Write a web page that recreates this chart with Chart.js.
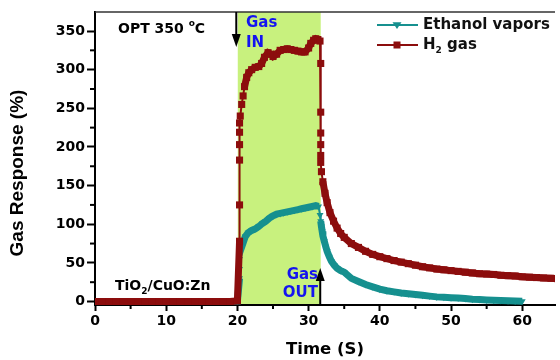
<!DOCTYPE html>
<html>
<head>
<meta charset="utf-8">
<script src="https://cdn.jsdelivr.net/npm/chart.js@4/dist/chart.umd.min.js"></script>
<style>
  html, body { margin: 0; padding: 0; background: #fff; }
  #wrap { width: 560px; height: 360px; }
</style>
</head>
<body>
<div id="wrap"><canvas id="gasChart" width="560" height="360"></canvas></div>
<script>
// values
const h2Time = [0,1,2,3,4,5,6,7,8,9,10,11,12,13,14,15,16,17,18,19,20,
    20.3,20.3,20.3,20.3,20.3,20.3,
    20.4,20.6,20.8,21.0,21.3,21.6,22.0,22.5,23.0,23.4,23.8,24.3,24.7,25.0,25.5,26.0,26.5,27.0,27.5,28.0,28.5,29.0,29.5,30.0,30.3,30.7,31.0,31.3,31.6,
    31.7,31.7,31.7,31.7,31.7,31.7,
    31.8,32.0,32.3,32.6,33.0,33.5,34.0,34.5,35,36,37,38,39,40,41,42,43,44,45,46,47,48,49,50,51,52,53,54,55,56,57,58,59,60,61,62,63,64,65];
const h2Values = [0,0,0,0,0,0,0,0,0,0,0,0,0,0,0,0,0,0,0,0,1,
    78,125,183,203,219,231,
    240,255,266,278,290,296,300,303,304,308,316,322,320,317,320,325,326,327,326,325,324,323,323,328,334,338,340,339,337,
    308,245,218,203,189,180,
    168,155,140,128,115,104,95,88,83,75,70,65,61,58,55.5,53,51,49,47,45,43.5,42,41,40,39,38,37,36,35.5,35,34,33.5,33,32,31.5,31,30.5,30,29.5];

const ethTime = [0,1,2,3,4,5,6,7,8,9,10,11,12,13,14,15,16,17,18,19,20,
    20.3,20.3,20.3,20.3,20.3,
    20.5,20.8,21.1,21.5,22.0,22.5,23.0,23.5,24.0,24.5,25.0,25.5,26.0,26.5,27.0,27.5,28.0,28.5,29.0,29.5,30.0,30.5,31.0,31.4,
    31.6,31.7,31.8,31.9,32.0,32.2,32.4,32.6,32.9,33.2,33.6,34.0,34.5,35,36,37,38,39,40,41,42,43,44,45,46,47,48,49,50,51,52,53,54,55,56,57,58,59,60];
const ethValues = [0,0,0,0,0,0,0,0,0,0,0,0,0,0,0,0,0,0,0,0,0.5,
    30,42,55,65,75,
    68,76,84,89,92,94,97,101,104,108,111,113,114,115,116,117,118,119,120,121,122,123,124,123,
    112,104,97,91,85,78,71,65,58,52,47,43,40,38,30,26,22,19,16,14,12.5,11,10,9,8,7,6,5.5,5,4.5,4,3,2.5,2,1.5,1.2,1,0.8,0.5];

const xTicks = [0, 10, 20, 30, 40, 50, 60];
const yTicks = [0, 50, 100, 150, 200, 250, 300, 350];

const gasOn = 20.05;
const gasOff = 31.7;

const FONT = '"DejaVu Sans", Verdana, sans-serif';
const FONT2 = '"Liberation Sans", Arial, sans-serif';
const RED = '#8c0d0d';
const TEAL = '#16908f';
const BLUE = '#1414f0';

function toPoints(xs, ys) {
    return xs.map((x, i) => ({ x: x, y: ys[i] }));
}

// thin line for the vertical jumps, thick band elsewhere
function segWidth(ctx) {
    const dx = Math.abs(ctx.p1.x - ctx.p0.x);
    const dy = Math.abs(ctx.p1.y - ctx.p0.y);
    return (dx < 2 && dy > 6) ? 2 : 7;
}

function drawTriangleDown(ctx, x, y, r) {
    ctx.beginPath();
    ctx.moveTo(x - r, y - r * 0.6);
    ctx.lineTo(x + r, y - r * 0.6);
    ctx.lineTo(x, y + r * 0.9);
    ctx.closePath();
    ctx.fill();
}

const decorPlugin = {
    id: 'decor',
    beforeDatasetsDraw(chart) {
        const { ctx, chartArea, scales } = chart;
        const x0 = scales.x.getPixelForValue(gasOn);
        const x1 = scales.x.getPixelForValue(gasOff);
        ctx.save();
        ctx.fillStyle = '#c8f17e';
        ctx.fillRect(x0, chartArea.top, x1 - x0, chartArea.bottom - chartArea.top - 1);
        ctx.restore();
    },
    afterDraw(chart) {
        const { ctx, chartArea, scales } = chart;
        const xs = scales.x, ys = scales.y;
        ctx.save();

        // top frame line
        ctx.strokeStyle = '#333';
        ctx.lineWidth = 1.5;
        ctx.beginPath();
        ctx.moveTo(chartArea.left, chartArea.top);
        ctx.lineTo(chartArea.right, chartArea.top);
        ctx.stroke();

        // minor ticks
        ctx.strokeStyle = '#000';
        ctx.lineWidth = 2;
        for (let v = 5; v < xs.max; v += 10) {
            const px = xs.getPixelForValue(v);
            ctx.beginPath();
            ctx.moveTo(px, chartArea.bottom);
            ctx.lineTo(px, chartArea.bottom + 4);
            ctx.stroke();
        }
        for (let v = 25; v < ys.max; v += 50) {
            const py = ys.getPixelForValue(v);
            ctx.beginPath();
            ctx.moveTo(chartArea.left, py);
            ctx.lineTo(chartArea.left - 5, py);
            ctx.stroke();
        }

        // y axis title
        ctx.save();
        ctx.translate(18, 173);
        ctx.rotate(-Math.PI / 2);
        ctx.textAlign = 'center';
        ctx.textBaseline = 'middle';
        ctx.fillStyle = '#000';
        ctx.font = 'bold 19px ' + FONT2;
        ctx.fillText('Gas Response (%)', 0, 0);
        ctx.restore();

        // arrows
        const inX = xs.getPixelForValue(gasOn) - 1.5;
        ctx.fillStyle = '#000';
        ctx.beginPath();
        ctx.moveTo(inX, chartArea.top);
        ctx.lineTo(inX, 38);
        ctx.stroke();
        ctx.beginPath();
        ctx.moveTo(inX - 4.5, 34);
        ctx.lineTo(inX + 4.5, 34);
        ctx.lineTo(inX, 47);
        ctx.closePath();
        ctx.fill();

        const outX = xs.getPixelForValue(gasOff) - 0.5;
        ctx.beginPath();
        ctx.moveTo(outX, chartArea.bottom);
        ctx.lineTo(outX, 276);
        ctx.stroke();
        ctx.beginPath();
        ctx.moveTo(outX - 4.5, 281);
        ctx.lineTo(outX + 4.5, 281);
        ctx.lineTo(outX, 268);
        ctx.closePath();
        ctx.fill();

        // texts
        ctx.textBaseline = 'middle';
        ctx.fillStyle = BLUE;
        ctx.font = 'bold 15px ' + FONT;
        ctx.textAlign = 'left';
        ctx.fillText('Gas', 246, 23);
        ctx.fillText('IN', 246, 43);
        ctx.textAlign = 'right';
        ctx.fillText('Gas', 318, 275);
        ctx.fillText('OUT', 318, 293);

        ctx.textAlign = 'left';
        ctx.fillStyle = '#000';
        ctx.font = 'bold 14px ' + FONT;
        let tx = 118;
        ctx.fillText('OPT 350 ', tx, 29);
        tx += ctx.measureText('OPT 350 ').width;
        ctx.font = 'bold 9px ' + FONT;
        ctx.fillText('o', tx, 24);
        tx += ctx.measureText('o').width;
        ctx.font = 'bold 14px ' + FONT;
        ctx.fillText('C', tx, 29);

        tx = 115;
        ctx.font = 'bold 14px ' + FONT;
        ctx.fillText('TiO', tx, 286);
        tx += ctx.measureText('TiO').width;
        ctx.font = 'bold 9px ' + FONT;
        ctx.fillText('2', tx, 292);
        tx += ctx.measureText('2').width;
        ctx.font = 'bold 14px ' + FONT;
        ctx.fillText('/CuO:Zn', tx, 286);

        // legend
        ctx.lineWidth = 2;
        ctx.strokeStyle = TEAL;
        ctx.fillStyle = TEAL;
        ctx.beginPath();
        ctx.moveTo(377, 25);
        ctx.lineTo(418, 25);
        ctx.stroke();
        drawTriangleDown(ctx, 397, 25, 4.5);

        ctx.strokeStyle = RED;
        ctx.fillStyle = RED;
        ctx.beginPath();
        ctx.moveTo(377, 45);
        ctx.lineTo(418, 45);
        ctx.stroke();
        ctx.fillRect(393.5, 41.5, 7, 7);

        ctx.fillStyle = '#111';
        ctx.font = 'bold 15px ' + FONT;
        ctx.fillText('Ethanol vapors', 423, 25);
        tx = 423;
        ctx.fillText('H', tx, 45);
        tx += ctx.measureText('H').width;
        ctx.font = 'bold 9px ' + FONT;
        ctx.fillText('2', tx, 51);
        tx += ctx.measureText('2').width;
        ctx.font = 'bold 15px ' + FONT;
        ctx.fillText(' gas', tx, 45);

        ctx.restore();
    }
};

const ctx = document.getElementById('gasChart').getContext('2d');
new Chart(ctx, {
    type: 'line',
    data: {
        datasets: [
            {
                label: 'H2 gas',
                data: toPoints(h2Time, h2Values),
                borderColor: RED,
                backgroundColor: RED,
                borderWidth: 2,
                pointStyle: 'rect',
                pointRadius: 5,
                pointBorderWidth: 0,
                segment: { borderWidth: segWidth },
                order: 0
            },
            {
                label: 'Ethanol vapors',
                data: toPoints(ethTime, ethValues),
                borderColor: TEAL,
                backgroundColor: TEAL,
                borderWidth: 2,
                pointStyle: 'triangle',
                rotation: 180,
                pointRadius: 4,
                pointBorderWidth: 0,
                segment: { borderWidth: segWidth },
                order: 1
            }
        ]
    },
    options: {
        responsive: false,
        animation: false,
        layout: { padding: { top: 12, right: 0, left: 0, bottom: 0 } },
        plugins: {
            legend: { display: false },
            tooltip: { enabled: false }
        },
        scales: {
            x: {
                type: 'linear',
                min: 0,
                max: 64.6,
                afterBuildTicks: (scale) => { scale.ticks = xTicks.map(v => ({ value: v })); },
                afterFit: (scale) => { scale.height = 55; },
                ticks: {
                    color: '#000',
                    font: { family: FONT, size: 14, weight: 'bold' },
                    padding: 2,
                    maxRotation: 0
                },
                grid: { drawOnChartArea: false, drawTicks: true, tickLength: 6, tickColor: '#000', tickWidth: 2 },
                border: { display: true, color: '#000', width: 2 },
                title: {
                    display: true,
                    text: 'Time (S)',
                    color: '#000',
                    font: { family: FONT, size: 16.5, weight: 'bold' },
                    padding: { top: 1, bottom: 0 }
                }
            },
            y: {
                min: -4.5,
                max: 374.6,
                afterBuildTicks: (scale) => { scale.ticks = yTicks.map(v => ({ value: v })); },
                afterFit: (scale) => { scale.width = 95; },
                ticks: {
                    color: '#000',
                    font: { family: FONT, size: 14, weight: 'bold' },
                    padding: 2
                },
                grid: { drawOnChartArea: false, drawTicks: true, tickLength: 8, tickColor: '#000', tickWidth: 2 },
                border: { display: true, color: '#000', width: 2 },
                title: { display: false }
            }
        }
    },
    plugins: [decorPlugin]
});
</script>
</body>
</html>
